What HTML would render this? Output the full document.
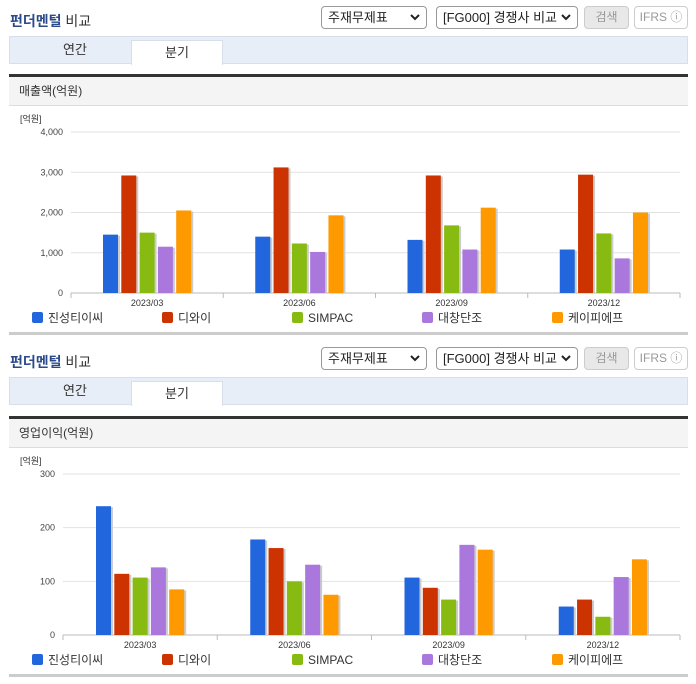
<!DOCTYPE html>
<html><head><meta charset="utf-8">
<style>
*{margin:0;padding:0;box-sizing:border-box}
body{width:696px;height:684px;background:#fff;font-family:"Liberation Sans","Noto Sans CJK KR",sans-serif;position:relative;overflow:hidden;color:#333}
.abs{position:absolute}
.title{font-size:14px;font-weight:bold;color:#2a4a8a}
.title span{color:#333;font-weight:normal}
.sel{border:1px solid #999;border-radius:4px;height:23px;font-size:13px;line-height:21px;padding:0 6px;background:#fff;color:#222}
.sel svg{position:absolute;right:6px;top:7px}
.btn{border:1px solid #ccc;border-radius:4px;height:23px;font-size:12px;text-align:center;line-height:21px;color:#999}
.tabbar{left:9px;width:679px;height:28px;background:#e8eef7;border:1px solid #d8dfe9}
.tab{top:0;height:27px;font-size:13px;line-height:26px;text-align:center;color:#333}
.hdr{left:9px;width:679px;height:32px;background:#f4f4f4;border-top:3px solid #333;border-bottom:1px solid #ddd;font-size:12px;line-height:28px;padding-left:10px}
.foot{left:9px;width:679px;height:3px;background:#ccc}
</style></head><body>
<div class="abs title" style="left:10px;top:11px">펀더멘털 <span>비교</span></div>
<div class="abs sel" style="left:321px;top:6px;width:106px">주재무제표<svg width="10" height="7"><path d="M1 1L5 5L9 1" stroke="#222" stroke-width="2" fill="none"/></svg></div>
<div class="abs sel" style="left:436px;top:6px;width:142px">[FG000] 경쟁사 비교<svg width="10" height="7"><path d="M1 1L5 5L9 1" stroke="#222" stroke-width="2" fill="none"/></svg></div>
<div class="abs btn" style="left:584px;top:6px;width:45px;background:#e8e8e8">검색</div>
<div class="abs btn" style="left:634px;top:6px;width:54px">IFRS ⓘ</div>
<div class="abs tabbar" style="top:36px">
<div class="abs tab" style="left:20px;width:90px">연간</div>
<div class="abs tab" style="left:121px;width:92px;background:#fff;border:1px solid #d8dfe9;border-bottom:none;top:3px;height:25px;line-height:24px">분기</div>
</div>
<div class="abs hdr" style="top:74px">매출액(억원)</div>
<svg class="abs" id="c1" style="left:0;top:110px" width="696" height="222"></svg>
<div class="abs foot" style="top:332px"></div>

<div class="abs title" style="left:10px;top:352px">펀더멘털 <span>비교</span></div>
<div class="abs sel" style="left:321px;top:347px;width:106px">주재무제표<svg width="10" height="7"><path d="M1 1L5 5L9 1" stroke="#222" stroke-width="2" fill="none"/></svg></div>
<div class="abs sel" style="left:436px;top:347px;width:142px">[FG000] 경쟁사 비교<svg width="10" height="7"><path d="M1 1L5 5L9 1" stroke="#222" stroke-width="2" fill="none"/></svg></div>
<div class="abs btn" style="left:584px;top:347px;width:45px;background:#e8e8e8">검색</div>
<div class="abs btn" style="left:634px;top:347px;width:54px">IFRS ⓘ</div>
<div class="abs tabbar" style="top:377px">
<div class="abs tab" style="left:20px;width:90px">연간</div>
<div class="abs tab" style="left:121px;width:92px;background:#fff;border:1px solid #d8dfe9;border-bottom:none;top:3px;height:25px;line-height:24px">분기</div>
</div>
<div class="abs hdr" style="top:416px">영업이익(억원)</div>
<svg class="abs" id="c2" style="left:0;top:450px" width="696" height="224"></svg>
<div class="abs foot" style="top:674px"></div>

<script>
const categories=["2023/03","2023/06","2023/09","2023/12"];
const seriesNames=["진성티이씨","디와이","SIMPAC","대창단조","케이피에프"];
const colors=["#2266dd","#cc3300","#88bb11","#aa77dd","#ff9900"];
const revJinsung=[1450,1400,1320,1080];
const revDY=[2920,3120,2920,2940];
const revSimpac=[1500,1230,1680,1480];
const revDaechang=[1150,1020,1080,860];
const revKPF=[2050,1930,2120,2000];
const revTicks=[0,1000,2000,3000,4000];
const revTickLabels=["0","1,000","2,000","3,000","4,000"];
const opJinsung=[240,178,107,53];
const opDY=[114,162,88,66];
const opSimpac=[107,100,66,34];
const opDaechang=[126,131,168,108];
const opKPF=[85,75,159,141];
const opTicks=[0,100,200,300];
const opTickLabels=["0","100","200","300"];
const NS="http://www.w3.org/2000/svg";
function mk(svg,tag,attrs,txt){const e=document.createElementNS(NS,tag);for(const k in attrs)e.setAttribute(k,attrs[k]);if(txt!=null)e.textContent=txt;svg.appendChild(e);return e;}
function draw(id,series,ticks,labels,x0,x1,y0,yTop,firstOff){
 const svg=document.getElementById(id);
 const max=ticks[ticks.length-1];
 const y=v=>y0-(v/max)*(y0-yTop);
 const cw=(x1-x0)/categories.length;
 const x=i=>x0+i*cw;
 let t=mk(svg,'text',{x:20,y:yTop-10,'font-size':9,fill:'#333'},'[억원]');
 
 ticks.forEach((tv,i)=>{
  const g=mk(svg,'line',{x1:x0,x2:x1,y1:y(tv),y2:y(tv),stroke:i==0?'#bbb':'#e2e2e2'});
  
  const l=mk(svg,'text',{x:x0-8,y:y(tv)+3,'font-size':9,fill:'#444','text-anchor':'end'},labels[i]);
  
 });
 categories.forEach((c,i)=>{
  mk(svg,'line',{x1:x(i),x2:x(i),y1:y0,y2:y0+5,stroke:'#bbb'});
  const l=mk(svg,'text',{x:x(i)+cw/2,y:y0+13,'font-size':9,fill:'#333','text-anchor':'middle'},c);
  
  series.forEach((s,j)=>{
   const bx=x(i)+firstOff+j*18.3;
   mk(svg,'rect',{x:bx+2,y:y(s[i])+1,width:15,height:y0-y(s[i])-1,fill:'#ccc'});
   const r=mk(svg,'rect',{x:bx,y:y(s[i]),width:15,height:y0-y(s[i]),fill:colors[j]});
   
  });
 });
 mk(svg,'line',{x1:x1,x2:x1,y1:y0,y2:y0+5,stroke:'#bbb'});
 seriesNames.forEach((n,j)=>{
  const lx=32+j*130;
  const r=mk(svg,'rect',{x:lx,y:y0+19,width:11,height:11,rx:2,fill:colors[j]});
  
  const l=mk(svg,'text',{x:lx+16,y:y0+29,'font-size':12,fill:'#333'},n);
  
 });
}
draw('c1',[revJinsung,revDY,revSimpac,revDaechang,revKPF],revTicks,revTickLabels,71,680,183,22,32);
draw('c2',[opJinsung,opDY,opSimpac,opDaechang,opKPF],opTicks,opTickLabels,63,680,185,24,33);
</script>
</body></html>
